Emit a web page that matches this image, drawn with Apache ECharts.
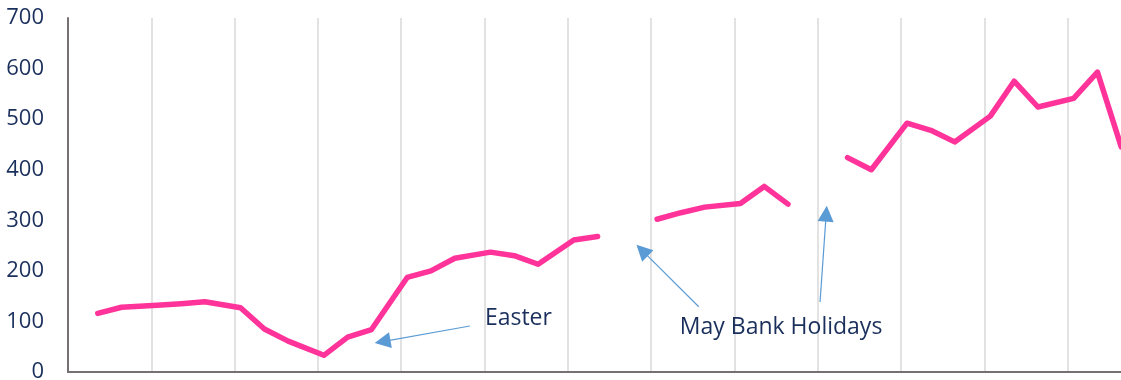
<!DOCTYPE html>
<html>
<head>
<meta charset="utf-8">
<script src="https://cdn.jsdelivr.net/npm/echarts@6/dist/echarts.min.js"></script>
<style>
  html, body { margin: 0; padding: 0; background: #ffffff; }
  #chart { width: 1121px; height: 380px; }
</style>
</head>
<body>
<div id="chart"></div>
<script>
// Day number (Monday of the first week = day 0) of each observation
const days = [2, 4, 7, 9, 11, 14, 16, 18, 21, 23, 25, 28, 30, 32, 35, 37, 39, 42, 44, 46,
              49, 51, 53, 56, 58, 60, 63, 65, 67, 70, 72, 74, 77, 79, 81, 84, 86, 88];
// Values (null = bank holiday, no data)
const values = [116, 128, 132, 135, 139, 127, 85, 61, 33, 69, 84, 187, 200, 225, 237, 230, 213, 261, 268, null,
                302, 315, 326, 333, 367, 332, null, 424, 400, 492, 478, 455, 506, 575, 524, 541, 593, 445];
// Y axis ticks
const yTicks = [0, 100, 200, 300, 400, 500, 600, 700];

// Annotations (in data coordinates: [day, value])
const noteTexts = ['Easter', 'May Bank Holidays'];
const noteAnchors = [[35.03, 106.8], [51.41, 87.4]];
const arrowLines = [
  [[33.77, 91], [26.43, 60.1]],
  [[53.0, 129.1], [48.24, 240.5]],
  [[63.19, 138.4], [63.71, 313.2]]
];

const FONT = 'Open Sans';
const TEXT_COLOR = '#1A2F5C';

const seriesData = days.map((d, i) => [d + 0.5, values[i] == null ? '-' : values[i]]);

const chart = echarts.init(document.getElementById('chart'), null, { renderer: 'canvas' });
chart.setOption({
  animation: false,
  backgroundColor: '#ffffff',
  grid: { left: 68, top: 18, width: 1083, height: 354, containLabel: false, outerBoundsMode: 'none' },
  xAxis: {
    type: 'value',
    min: 0,
    max: 91,
    interval: 7,
    axisLine: { show: true, lineStyle: { color: '#767171', width: 2 } },
    axisTick: { show: false },
    axisLabel: { show: false },
    splitLine: { show: true, lineStyle: { color: '#d9d9d9', width: 1.5 } }
  },
  yAxis: {
    type: 'value',
    min: yTicks[0],
    max: yTicks[yTicks.length - 1],
    interval: yTicks[1] - yTicks[0],
    axisLine: { show: true, lineStyle: { color: '#767171', width: 2 } },
    axisTick: { show: false },
    splitLine: { show: false },
    axisLabel: {
      color: TEXT_COLOR,
      fontFamily: FONT,
      fontSize: 22,
      margin: 24
    }
  },
  series: [{
    type: 'line',
    data: seriesData,
    showSymbol: false,
    connectNulls: false,
    clip: true,
    lineStyle: { color: '#FF3399', width: 5.5, cap: 'round', join: 'round' },
    itemStyle: { color: '#FF3399' },
    emphasis: { disabled: true },
    silent: true,
    markLine: {
      silent: true,
      symbol: ['none', 'triangle'],
      symbolSize: 16,
      label: { show: false },
      emphasis: { disabled: true },
      lineStyle: { color: '#5B9BD5', width: 1.2, type: 'solid' },
      itemStyle: { color: '#5B9BD5' },
      data: arrowLines.map(a => [{ coord: a[0] }, { coord: a[1] }])
    },
    markPoint: {
      silent: true,
      symbol: 'circle',
      symbolSize: 0,
      itemStyle: { color: 'transparent' },
      label: {
        show: true,
        position: 'right',
        distance: 0,
        formatter: '{b}',
        color: TEXT_COLOR,
        fontFamily: FONT,
        fontSize: 23
      },
      data: noteTexts.map((t, i) => ({ name: t, coord: noteAnchors[i] }))
    }
  }]
});
</script>
</body>
</html>
